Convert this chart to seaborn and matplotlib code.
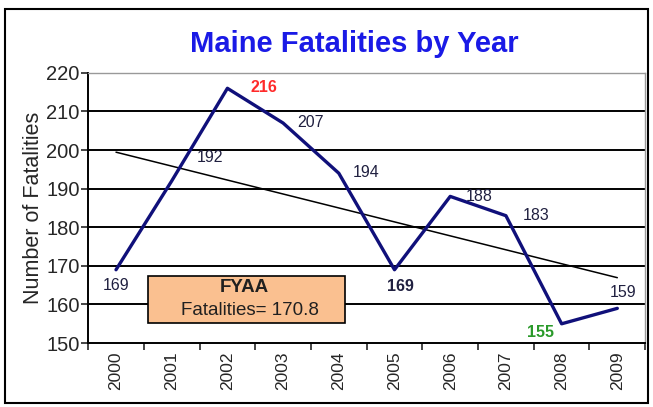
import matplotlib
matplotlib.use("Agg")
import matplotlib.pyplot as plt
import seaborn as sns
import numpy as np
import pandas as pd
from matplotlib.patches import Rectangle

years = ["2000", "2001", "2002", "2003", "2004", "2005", "2006", "2007", "2008", "2009"]
fatalities = [169, 192, 216, 207, 194, 169, 188, 183, 155, 159]
fyaa_text = "Fatalities= 170.8"

# label offsets in pixels, colors and weights per point
label_offsets = [(0, -16), (38, 23), (37, 1), (27, 1), (27, 1), (6, -17), (29, 0), (30, 0), (-21, -9), (6, 16)]
label_colors = ["#202040"] * 10
label_colors[2] = "#ff2a2a"
label_colors[8] = "#2a9a2a"
label_weights = ["normal"] * 10
for i in (2, 5, 8):
    label_weights[i] = "bold"

sns.set_style("white")
plt.rcParams["font.family"] = ["Liberation Sans", "DejaVu Sans"]

df = pd.DataFrame({"idx": np.arange(len(years)), "fatalities": fatalities})

fig = plt.figure(figsize=(6.53, 4.07), dpi=100)
ax = fig.add_axes([0.135, 0.157, 0.853, 0.664])

# horizontal grid lines
for v in range(160, 220, 10):
    ax.axhline(v, color="black", lw=1.4, zorder=1)

sns.regplot(data=df, x="idx", y="fatalities", scatter=False, ci=None, ax=ax,
            color="black", line_kws={"lw": 1.1, "zorder": 2})
sns.lineplot(data=df, x="idx", y="fatalities", ax=ax, color="#10107a", lw=2.4, zorder=3)

for i, v in enumerate(fatalities):
    ax.annotate(str(v), (i, v), xytext=label_offsets[i], textcoords="offset pixels",
                ha="center", va="center", fontsize=11.5, color=label_colors[i],
                fontweight=label_weights[i], zorder=4)

ax.set_xlim(-0.5, len(years) - 0.5)
ax.set_ylim(150, 220)
ax.set_yticks(range(150, 221, 10))
ax.tick_params(axis="y", labelsize=14.5, length=5, width=1.2, direction="out", left=True, pad=1)
ax.set_xticks(range(len(years)))
ax.set_xticklabels(years, rotation=90, fontsize=12.5)
ax.set_xticks(np.arange(-0.5, len(years)), minor=True)
ax.tick_params(axis="x", which="major", length=0, pad=6)
ax.tick_params(axis="x", which="minor", length=5, width=1.2, direction="out", bottom=True)
ax.set_xlabel("")
ax.set_ylabel("Number of Fatalities", fontsize=15.5, labelpad=2)

for side in ("left", "bottom"):
    ax.spines[side].set_color("black")
    ax.spines[side].set_linewidth(1.4)
for side in ("top", "right"):
    ax.spines[side].set_color("#999999")
    ax.spines[side].set_linewidth(1.0)

# FYAA box
ax.add_patch(Rectangle((0.58, 155.3), 3.53, 12.2, facecolor="#fac090",
                       edgecolor="black", lw=1.2, zorder=5))
ax.text(2.3, 164.3, "FYAA", ha="center", va="center", fontsize=13.5,
        fontweight="bold", color="#202020", zorder=6)
ax.text(2.4, 158.5, fyaa_text, ha="center", va="center", fontsize=13.5,
        color="#202020", zorder=6)

fig.text(0.543, 0.893, "Maine Fatalities by Year", ha="center", va="center",
         fontsize=21, fontweight="bold", color="#1a1ae6")

fig.add_artist(Rectangle((0.008, 0.01), 0.984, 0.968, transform=fig.transFigure,
                         fill=False, edgecolor="black", lw=1.5))

fig.savefig("out.png", dpi=100)
